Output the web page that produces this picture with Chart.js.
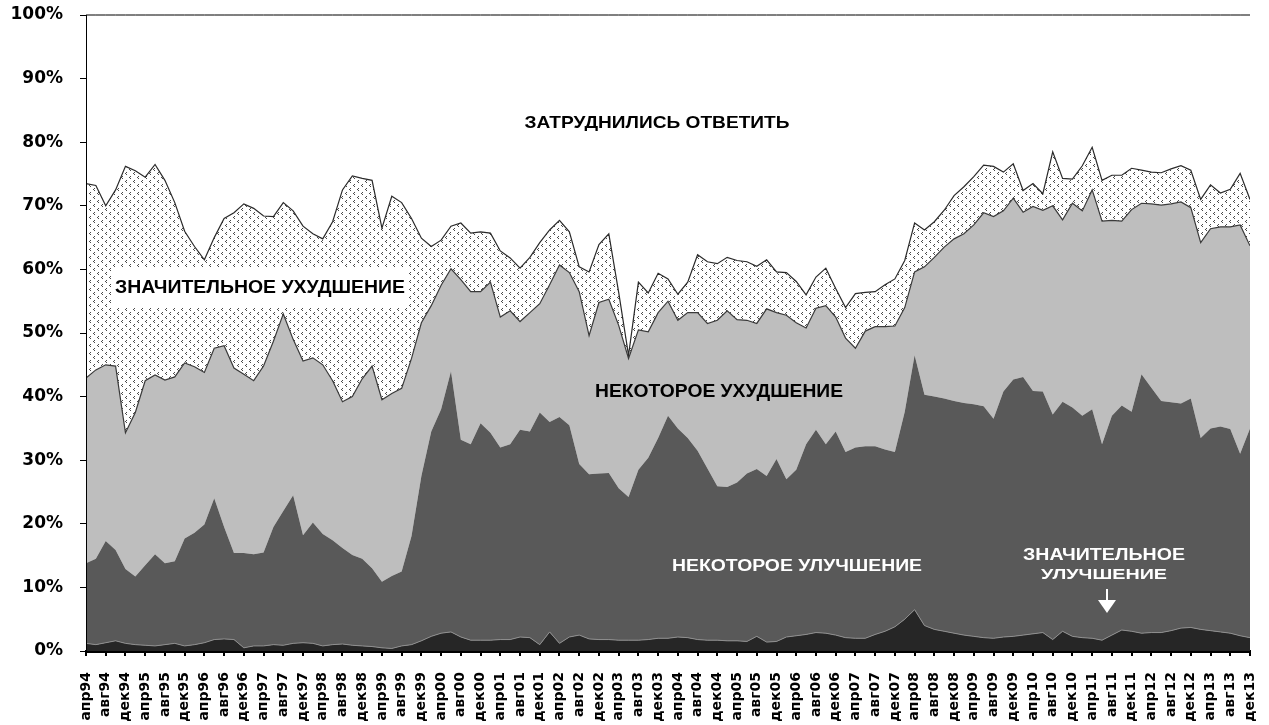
<!DOCTYPE html>
<html>
<head>
<meta charset="utf-8">
<script src="https://cdn.jsdelivr.net/npm/chart.js@4"></script>
<style>
  html, body { margin: 0; background: #fff; }
</style>
</head>
<body>
<canvas id="chart" width="1269" height="725"></canvas>
<script>
// period labels under the axis (every 4 months)
const tickLabels = ['апр94','авг94','дек94','апр95','авг95','дек95','апр96','авг96','дек96','апр97','авг97','дек97',
  'апр98','авг98','дек98','апр99','авг99','дек99','апр00','авг00','дек00','апр01','авг01','дек01',
  'апр02','авг02','дек02','апр03','авг03','дек03','апр04','авг04','дек04','апр05','авг05','дек05',
  'апр06','авг06','дек06','апр07','авг07','дек07','апр08','авг08','дек08','апр09','авг09','дек09',
  'апр10','авг10','дек10','апр11','авг11','дек11','апр12','авг12','дек12','апр13','авг13','дек13'];

// shares (%), one value every 2 months from апр94 to дек13
const strongBetter = [1.2,1.0,1.3,1.6,1.2,1.0,0.9,0.8,1.0,1.2, 0.8,1.0,1.3,1.8,1.9,1.8,0.5,0.8,0.8,1.0,
  0.9,1.2,1.3,1.2,0.8,1.0,1.1,0.9,0.8,0.7, 0.5,0.4,0.8,1.0,1.6,2.3,2.8,3.0,2.2,1.7,
  1.7,1.7,1.8,1.8,2.2,2.1,1.0,3.0,1.2,2.2, 2.5,1.9,1.8,1.8,1.7,1.7,1.7,1.8,2.0,2.0,
  2.2,2.1,1.8,1.7,1.7,1.6,1.6,1.5,2.3,1.4, 1.5,2.2,2.4,2.6,2.9,2.8,2.5,2.1,2.0,2.0,
  2.6,3.1,3.8,5.0,6.5,4.0,3.4,3.1,2.8,2.5, 2.3,2.1,2.0,2.2,2.3,2.5,2.7,2.9,1.8,3.1,
  2.3,2.1,2.0,1.7,2.5,3.3,3.1,2.8,2.9,2.9, 3.2,3.6,3.7,3.4,3.2,3.0,2.8,2.4,2.1];

const someBetter = [12.6,13.5,16.0,14.3,11.7,10.7,12.6,14.4,12.8,12.9, 16.9,17.6,18.6,22.2,17.6,13.6,14.9,14.4,14.7,18.5,
  21.1,23.3,16.9,19.0,17.6,16.4,15.1,14.2,13.7,12.3, 10.4,11.4,11.7,17.1,25.9,32.2,35.2,41.0,31.0,30.8,
  34.1,32.6,30.2,30.7,32.6,32.4,36.5,33.0,35.6,33.3, 26.9,25.9,26.1,26.2,23.9,22.5,26.8,28.6,31.5,35.0,
  32.8,31.4,29.7,27.0,24.2,24.2,24.9,26.4,26.3,26.1, 28.7,24.8,26.1,29.9,31.9,29.7,32.0,29.2,30.0,30.2,
  29.6,28.6,27.5,32.6,40.0,36.3,36.6,36.6,36.5,36.5, 36.5,36.4,34.5,38.6,40.4,40.6,38.2,37.9,35.4,36.1,
  36.0,34.9,36.0,30.8,34.5,35.3,34.5,40.7,38.5,36.4, 35.9,35.3,36.0,30.1,31.8,32.3,32.1,28.6,32.9];

const someWorse = [29.1,29.7,27.7,28.9,21.4,25.8,29.0,28.2,28.8,29.0, 27.6,26.1,23.9,23.6,28.5,29.1,28.1,27.3,29.3,29.2,
  31.0,24.5,27.4,25.9,26.6,25.1,23.0,24.9,28.3,31.8, 28.6,28.7,28.8,27.9,24.1,19.8,19.5,16.1,25.2,24.0,
  20.7,23.7,20.5,21.0,17.0,18.7,17.1,21.6,23.9,24.0, 27.1,21.8,26.9,27.3,25.6,21.8,22.0,19.8,19.7,18.0,
  17.0,19.7,21.7,22.8,26.1,27.7,25.6,24.1,22.9,26.3, 23.0,25.8,23.1,18.3,19.1,21.8,18.0,17.9,15.6,18.1,
  18.8,19.3,19.8,16.4,13.1,20.1,21.9,23.8,25.5,26.6, 28.2,30.4,31.8,28.4,28.5,25.9,29.0,28.5,32.8,28.6,
  32.1,32.2,34.5,35.1,30.7,29.0,31.8,26.9,28.9,30.8, 31.2,31.7,30.0,30.7,31.4,31.4,31.8,36.0,28.7];

const strongWorse = [30.6,29.0,25.0,27.7,41.9,38.0,32.0,33.1,31.4,27.4, 20.7,18.9,17.7,17.4,20.0,24.4,26.8,27.1,23.6,19.6,
  17.5,20.2,21.2,19.5,19.8,25.0,33.3,34.7,31.5,29.2, 27.0,31.0,29.2,22.0,13.3,9.3,7.1,6.7,8.9,9.2,
  9.4,7.7,10.4,8.3,8.4,8.7,9.6,8.6,7.0,6.4, 3.9,10.0,9.1,10.3,5.2,0.5,7.5,6.1,6.2,3.5,
  4.1,4.8,9.1,9.7,8.9,8.4,9.3,9.2,9.0,7.7, 6.4,6.7,6.5,5.2,4.9,5.9,4.5,4.8,8.6,6.1,
  5.5,6.6,7.4,7.4,7.7,5.8,5.6,5.8,6.8,7.4, 7.6,7.5,7.9,6.1,5.4,3.4,3.6,2.6,8.5,6.5,
  3.8,7.1,6.7,6.4,7.1,7.2,6.5,5.2,5.0,5.1, 5.5,5.7,5.9,6.8,6.9,5.3,5.9,8.1,7.3];

const noAnswer = [26.5,26.8,30.0,27.5,23.8,24.5,25.5,23.5,26.0,29.5, 34.0,36.4,38.5,35.0,32.0,31.1,29.7,30.4,31.6,31.7,
  29.5,30.8,33.2,34.4,35.2,32.5,27.5,25.3,25.7,26.0, 33.5,28.5,29.5,32.0,35.1,36.4,35.4,33.2,32.7,34.3,
  34.1,34.3,37.1,38.2,39.8,38.1,35.8,33.8,32.3,34.1, 39.6,40.4,36.1,34.4,43.6,53.5,42.0,43.7,40.6,41.5,
  43.9,42.0,37.7,38.8,39.1,38.1,38.6,38.8,39.5,38.5, 40.4,40.5,41.9,44.0,41.2,39.8,43.0,46.0,43.8,43.6,
  43.5,42.4,41.5,38.6,32.7,33.8,32.5,30.7,28.4,27.0, 25.4,23.6,23.8,24.7,23.4,27.6,26.5,28.1,21.5,25.7,
  25.8,23.7,20.8,26.0,25.2,25.2,24.1,24.4,24.7,24.8, 24.2,23.7,24.4,29.0,26.7,28.0,27.4,24.9,29.0];

const FONT = '"Liberation Sans", Arial, sans-serif';
const AXIS_FONT = '"DejaVu Sans", "Liberation Sans", sans-serif';

const canvas = document.getElementById('chart');
const ctx = canvas.getContext('2d');

// dotted fill for "значительное ухудшение"
function dotPattern() {
  const tile = document.createElement('canvas');
  tile.width = 8;
  tile.height = 8;
  const g = tile.getContext('2d');
  g.fillStyle = '#fff';
  g.fillRect(0, 0, 8, 8);
  g.fillStyle = '#4a4a4a';
  g.fillRect(2, 0, 1, 1);
  g.fillRect(1, 1, 1, 1);
  g.fillRect(2, 2, 1, 1);
  g.fillRect(6, 4, 1, 1);
  g.fillRect(5, 5, 1, 1);
  g.fillRect(6, 6, 1, 1);
  return ctx.createPattern(tile, 'repeat');
}

function toPoints(arr) {
  return arr.map((v, i) => ({ x: i, y: v }));
}

// text squeezed / spread to a given width
function drawText(c, text, cx, cy, width, size, color) {
  c.save();
  c.font = 'bold ' + size + 'px ' + FONT;
  c.fillStyle = color;
  c.textAlign = 'left';
  c.textBaseline = 'middle';
  const w = c.measureText(text).width;
  c.translate(cx - width / 2, cy);
  c.scale(width / w, 1);
  c.fillText(text, 0, 0);
  c.restore();
}

const labelsPlugin = {
  id: 'labels',
  afterDatasetsDraw(chart) {
    const c = chart.ctx;
    const a = chart.chartArea;

    // axis lines on top of the areas
    c.save();
    c.strokeStyle = '#000';
    c.lineWidth = 1;
    c.beginPath();
    c.moveTo(a.left + 0.5, a.top);
    c.lineTo(a.left + 0.5, a.bottom);
    c.stroke();
    c.lineWidth = 2;
    c.beginPath();
    c.moveTo(a.left, a.bottom + 1);
    c.lineTo(a.right, a.bottom + 1);
    c.stroke();
    c.restore();

    drawText(c, 'ЗАТРУДНИЛИСЬ ОТВЕТИТЬ', 657, 123, 265, 17, '#000');

    c.fillStyle = '#fff';
    c.fillRect(112, 268, 295, 40);
    drawText(c, 'ЗНАЧИТЕЛЬНОЕ УХУДШЕНИЕ', 260, 288, 290, 18, '#000');

    drawText(c, 'НЕКОТОРОЕ УХУДШЕНИЕ', 719, 392, 248, 18, '#000');
    drawText(c, 'НЕКОТОРОЕ УЛУЧШЕНИЕ', 797, 567, 250, 16, '#fff');

    drawText(c, 'ЗНАЧИТЕЛЬНОЕ', 1104, 555, 162, 17, '#fff');
    drawText(c, 'УЛУЧШЕНИЕ', 1104, 575, 126, 14, '#fff');

    // small arrow down to the thin band
    c.fillStyle = '#fff';
    c.fillRect(1106, 589, 2, 12);
    c.beginPath();
    c.moveTo(1098, 600);
    c.lineTo(1116, 600);
    c.lineTo(1107, 613);
    c.closePath();
    c.fill();
  }
};

new Chart(ctx, {
  type: 'line',
  data: {
    datasets: [
      { label: 'значительное улучшение', data: toPoints(strongBetter), fill: 'origin',
        backgroundColor: '#262626', borderColor: '#8e8e8e', borderWidth: 1 },
      { label: 'некоторое улучшение', data: toPoints(someBetter), fill: '-1',
        backgroundColor: '#595959', borderColor: '#595959', borderWidth: 0 },
      { label: 'некоторое ухудшение', data: toPoints(someWorse), fill: '-1',
        backgroundColor: '#bebebe', borderColor: '#3a3a3a', borderWidth: 1.2 },
      { label: 'значительное ухудшение', data: toPoints(strongWorse), fill: '-1',
        backgroundColor: dotPattern(), borderColor: '#2a2a2a', borderWidth: 1.2 },
      { label: 'затруднились ответить', data: toPoints(noAnswer), fill: '-1',
        backgroundColor: '#fff', borderColor: '#000', borderWidth: 1, clip: 4 }
    ]
  },
  options: {
    responsive: false,
    animation: false,
    layout: { padding: { top: 15, right: 19, left: 0, bottom: 0 } },
    plugins: {
      legend: { display: false },
      tooltip: { enabled: false }
    },
    elements: {
      point: { radius: 0 },
      line: { tension: 0 }
    },
    scales: {
      x: {
        type: 'linear',
        min: 0,
        max: 118,
        afterFit: (s) => {
          s.height = 74;
          s.paddingLeft = 0;
          s.paddingRight = 0;
        },
        border: { color: '#000', width: 2 },
        grid: { drawOnChartArea: false, tickLength: 5, color: '#000', lineWidth: 2 },
        ticks: {
          stepSize: 2,
          maxTicksLimit: 100,
          autoSkip: false,
          minRotation: 90,
          maxRotation: 90,
          padding: 16,
          color: '#000',
          font: { family: AXIS_FONT, size: 14, weight: 'bold' },
          callback: (v) => tickLabels[v / 2]
        }
      },
      y: {
        stacked: true,
        min: 0,
        max: 100,
        afterFit: (s) => {
          s.width = 86;
          s.paddingTop = 0;
          s.paddingBottom = 0;
        },
        border: { color: '#000', width: 1 },
        grid: { drawOnChartArea: false, tickLength: 6, color: '#000' },
        ticks: {
          stepSize: 10,
          padding: 17,
          color: '#000',
          font: { family: AXIS_FONT, size: 17, weight: 'bold' },
          callback: (v) => v + '%'
        }
      }
    }
  },
  plugins: [labelsPlugin]
});
</script>
</body>
</html>
